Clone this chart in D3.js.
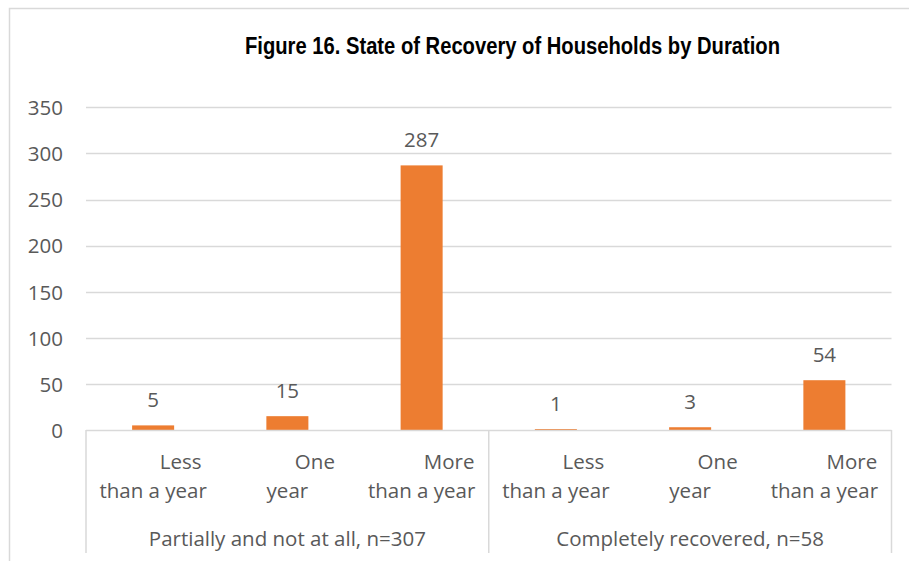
<!DOCTYPE html>
<html>
<head>
<meta charset="utf-8">
<script src="https://cdn.jsdelivr.net/npm/d3@7/dist/d3.min.js"></script>
<style>
  html, body { margin: 0; padding: 0; background: #fff; }
  svg { display: block; }
</style>
</head>
<body>
<script>
const title = "Figure 16. State of Recovery of Households by Duration";
const groups = ["Partially and not at all, n=307", "Completely recovered, n=58"];
const durations = ["Less than a year", "One year", "More than a year"];
const durationLines = [["Less", "than a year"], ["One", "year"], ["More", "than a year"]];
const partiallyValues = [5, 15, 287];
const completelyValues = [1, 3, 54];
const yTicks = [0, 50, 100, 150, 200, 250, 300, 350];

const W = 909, H = 561;
const svg = d3.select("body").append("svg").attr("width", W).attr("height", H);

const plotLeft = 86, plotRight = 891.5, plotTop = 107.3, plotBottom = 430;
const textColor = "#595959";
const gridColor = "#D9D9D9";
const barColor = "#ED7D31";
const font = "'Open Sans', 'Noto Sans', sans-serif";
const fs = 20.5;

// chart border
svg.append("rect").attr("x", 9.5).attr("y", 8.5).attr("width", W + 20).attr("height", H + 20)
  .attr("fill", "none").attr("stroke", gridColor).attr("stroke-width", 1.5);

// title
svg.append("text").attr("x", 512.5).attr("y", 54).attr("text-anchor", "middle")
  .attr("font-family", "'Liberation Sans Narrow', 'Arial Narrow', 'Liberation Sans', sans-serif")
  .attr("font-weight", "bold").attr("font-size", 23).attr("fill", "#000")
  .attr("textLength", 535).attr("lengthAdjust", "spacingAndGlyphs")
  .text(title);

const y = d3.scaleLinear().domain([0, 350]).range([plotBottom, plotTop]);
const xGroup = d3.scaleBand().domain(groups).range([plotLeft, plotRight]).padding(0);
const xInner = d3.scaleBand().domain(durations).range([0, xGroup.bandwidth()])
  .paddingInner(0.687).paddingOuter(0.3435);

// gridlines
svg.append("g").selectAll("line").data(yTicks.filter(t => t > 0)).join("line")
  .attr("x1", plotLeft).attr("x2", plotRight)
  .attr("y1", d => Math.round(y(d)) + 0.5).attr("y2", d => Math.round(y(d)) + 0.5)
  .attr("stroke", gridColor).attr("stroke-width", 1.3);

// y axis labels
const yAxis = d3.axisLeft(y).tickValues(yTicks).tickSize(0).tickPadding(0);
const yg = svg.append("g").attr("transform", `translate(63,0)`).call(yAxis);
yg.select(".domain").remove();
yg.selectAll("text").attr("font-family", font).attr("font-size", fs)
  .attr("fill", textColor).attr("x", 0).attr("dy", "0.36em");

const data = [];
groups.forEach((g, gi) => {
  const vals = gi === 0 ? partiallyValues : completelyValues;
  durations.forEach((d, di) => data.push({ group: g, dur: d, di, value: vals[di] }));
});

// bars
svg.append("g").selectAll("rect").data(data).join("rect")
  .attr("x", d => xGroup(d.group) + xInner(d.dur))
  .attr("width", xInner.bandwidth())
  .attr("y", d => y(d.value))
  .attr("height", d => y(0) - y(d.value))
  .attr("fill", barColor);

// value labels
svg.append("g").selectAll("text").data(data).join("text")
  .attr("x", d => xGroup(d.group) + xInner(d.dur) + xInner.bandwidth() / 2)
  .attr("y", d => y(d.value) - 18)
  .attr("text-anchor", "middle")
  .attr("font-family", font).attr("font-size", fs).attr("fill", textColor)
  .text(d => d.value);

// category axis lines
svg.append("line").attr("x1", plotLeft).attr("x2", plotRight)
  .attr("y1", plotBottom + 0.5).attr("y2", plotBottom + 0.5)
  .attr("stroke", gridColor).attr("stroke-width", 1.5);
const dividers = groups.map(g => xGroup(g)).concat([xGroup(groups[groups.length - 1]) + xGroup.bandwidth()]);
svg.append("g").selectAll("line").data(dividers).join("line")
  .attr("x1", d => d).attr("x2", d => d)
  .attr("y1", plotBottom).attr("y2", 553)
  .attr("stroke", gridColor).attr("stroke-width", 1.5);

// inner category labels
const lab = svg.append("g").selectAll("g").data(data).join("g")
  .attr("transform", d => `translate(${xGroup(d.group) + xInner(d.dur) + xInner.bandwidth() / 2},0)`);
lab.append("text").attr("x", 27.5).attr("y", 469).attr("text-anchor", "middle")
  .attr("font-family", font).attr("font-size", fs).attr("fill", textColor)
  .text(d => durationLines[d.di][0]);
lab.append("text").attr("x", 0).attr("y", 498).attr("text-anchor", "middle")
  .attr("font-family", font).attr("font-size", fs).attr("fill", textColor)
  .text(d => durationLines[d.di][1]);

// group labels
svg.append("g").selectAll("text").data(groups).join("text")
  .attr("x", d => xGroup(d) + xGroup.bandwidth() / 2).attr("y", 546)
  .attr("text-anchor", "middle")
  .attr("font-family", font).attr("font-size", fs).attr("fill", textColor)
  .text(d => d);
</script>
</body>
</html>
